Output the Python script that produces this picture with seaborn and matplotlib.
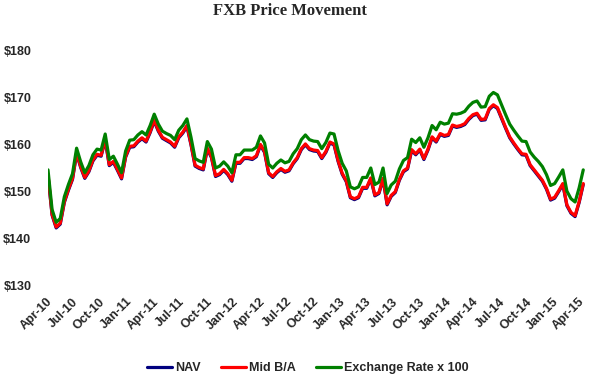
import pandas as pd
import matplotlib
matplotlib.use("Agg")
import matplotlib.pyplot as plt
import matplotlib.dates as mdates
from matplotlib.ticker import FuncFormatter
import seaborn as sns

# bi-weekly readings
start_date = "2010-03-25"
step = "14D"

exchange_x100 = [
    154.6, 146.2, 143.5, 144.3, 148.9, 151.5, 153.8, 159.2, 156.3, 154.0,
    155.5, 157.8, 159.0, 158.8, 162.2, 156.8, 157.5, 155.8, 154.0, 158.6,
    160.9, 161.0, 162.0, 162.7, 162.0, 164.0, 166.4, 164.3, 162.8, 162.3,
    161.9, 161.0, 163.0, 164.0, 165.4, 161.5, 157.0, 156.5, 156.2, 160.6,
    159.0, 155.0, 155.4, 156.3, 155.4, 154.0, 157.8, 157.8, 158.8, 158.8,
    158.8, 159.4, 161.8, 160.3, 155.8, 155.0, 156.0, 156.7, 156.1, 156.4,
    158.0, 159.1, 161.0, 162.0, 161.0, 160.7, 160.6, 159.1, 160.4, 162.4,
    162.2, 158.7, 156.0, 154.4, 151.0, 150.6, 151.0, 153.0, 153.0, 155.0,
    151.5, 152.0, 155.0, 149.6, 151.4, 152.2, 154.8, 156.6, 157.2, 161.1,
    160.4, 161.4, 159.4, 161.4, 164.0, 163.1, 164.7, 164.3, 164.5, 166.5,
    166.4, 166.6, 167.0, 168.1, 168.9, 169.2, 167.9, 168.0, 170.2, 171.0,
    170.5, 168.4, 166.3, 164.3, 163.0, 161.8, 160.7, 160.6, 158.4, 157.3,
    156.4, 155.3, 153.6, 151.3, 151.7, 153.1, 154.6, 150.1, 148.5, 147.8,
    150.8, 154.6,
]

mid_ba = [
    153.6, 145.2, 142.5, 143.3, 147.9, 150.5, 152.8, 158.2, 155.3, 153.0,
    154.4, 156.7, 157.9, 157.7, 161.1, 155.7, 156.4, 154.7, 152.9, 157.5,
    159.6, 159.7, 160.7, 161.4, 160.7, 162.7, 165.1, 163.0, 161.5, 161.0,
    160.5, 159.6, 161.6, 162.6, 164.0, 160.1, 155.6, 155.1, 154.8, 159.2,
    157.4, 153.4, 153.8, 154.7, 153.8, 152.4, 156.2, 156.2, 157.2, 157.2,
    157.0, 157.6, 160.0, 158.5, 154.0, 153.2, 154.2, 154.9, 154.3, 154.6,
    156.1, 157.2, 159.1, 160.1, 159.1, 158.8, 158.7, 157.2, 158.5, 160.5,
    160.1, 156.6, 153.9, 152.3, 148.9, 148.5, 148.9, 150.9, 150.9, 152.9,
    149.3, 149.8, 152.8, 147.4, 149.2, 150.0, 152.6, 154.4, 155.0, 158.9,
    158.0, 159.0, 157.0, 159.0, 161.6, 160.7, 162.3, 161.9, 162.1, 164.1,
    163.8, 164.0, 164.4, 165.5, 166.3, 166.6, 165.3, 165.4, 167.6, 168.4,
    167.8, 165.7, 163.6, 161.6, 160.3, 159.1, 158.0, 157.9, 155.7, 154.6,
    153.5, 152.4, 150.7, 148.4, 148.8, 150.2, 151.7, 147.2, 145.6, 144.9,
    147.9, 151.7,
]

nav = [
    153.4, 145.0, 142.3, 143.1, 147.7, 150.3, 152.6, 158.0, 155.1, 152.8,
    154.2, 156.5, 157.7, 157.5, 160.9, 155.5, 156.2, 154.5, 152.7, 157.3,
    159.4, 159.5, 160.5, 161.2, 160.5, 162.5, 164.9, 162.8, 161.3, 160.8,
    160.3, 159.4, 161.4, 162.4, 163.8, 159.9, 155.4, 154.9, 154.6, 159.0,
    157.2, 153.2, 153.6, 154.5, 153.6, 152.2, 156.0, 156.0, 157.0, 157.0,
    156.8, 157.4, 159.8, 158.3, 153.8, 153.0, 154.0, 154.7, 154.1, 154.4,
    155.9, 157.0, 158.9, 159.9, 158.9, 158.6, 158.5, 157.0, 158.3, 160.3,
    159.9, 156.4, 153.7, 152.1, 148.7, 148.3, 148.7, 150.7, 150.7, 152.7,
    149.1, 149.6, 152.6, 147.2, 149.0, 149.8, 152.4, 154.2, 154.8, 158.7,
    157.8, 158.8, 156.8, 158.8, 161.4, 160.5, 162.1, 161.7, 161.9, 163.9,
    163.6, 163.8, 164.2, 165.3, 166.1, 166.4, 165.1, 165.2, 167.4, 168.2,
    167.6, 165.5, 163.4, 161.4, 160.1, 158.9, 157.8, 157.7, 155.5, 154.4,
    153.3, 152.2, 150.5, 148.2, 148.6, 150.0, 151.5, 147.0, 145.4, 144.7,
    147.7, 151.5,
]

series_names = ["NAV", "Mid B/A", "Exchange Rate x 100"]
series_colors = ["#00007F", "#FF0000", "#008000"]

dates = pd.date_range(start_date, periods=len(nav), freq=step)
df = pd.DataFrame({"date": dates, "NAV": nav, "Mid B/A": mid_ba,
                   "Exchange Rate x 100": exchange_x100})
long_df = df.melt(id_vars="date", var_name="series", value_name="price")

sns.set_style("white")
plt.rcParams["font.family"] = ["Liberation Sans", "DejaVu Sans"]

fig = plt.figure(figsize=(5.9, 3.76), dpi=100)
ax = fig.add_axes([48 / 590, 90 / 376, 537 / 590, 236 / 376])

sns.lineplot(data=long_df, x="date", y="price", hue="series",
             hue_order=series_names, palette=series_colors,
             linewidth=2.3, ax=ax, legend=False)

ax.set_ylim(130, 180)
ax.set_yticks([130, 140, 150, 160, 170, 180])
ax.yaxis.set_major_formatter(FuncFormatter(lambda v, p: f"${v:.0f}"))
ax.set_xlim(pd.Timestamp("2010-03-25"), pd.Timestamp("2015-04-08"))
ax.xaxis.set_major_locator(mdates.MonthLocator(bymonth=[1, 4, 7, 10]))
ax.xaxis.set_major_formatter(mdates.DateFormatter("%b-%y"))
ax.set_xlabel("")
ax.set_ylabel("")
for s in ax.spines.values():
    s.set_visible(False)
ax.tick_params(axis="both", length=0, labelsize=9)
ax.tick_params(axis="y", pad=12)
ax.tick_params(axis="x", pad=10)
for lab in ax.get_yticklabels():
    lab.set_fontweight("bold")
for lab in ax.get_xticklabels():
    lab.set_fontweight("bold")
    lab.set_rotation(45)
    lab.set_ha("right")
    lab.set_va("center")
    lab.set_rotation_mode("anchor")

fig.text(290 / 590, 1 - 11 / 376, "FXB Price Movement", ha="center", va="center",
         fontsize=12, fontweight="bold", family=["Liberation Serif", "DejaVu Serif"])

handles = ax.get_lines()[:3]
fig.legend(handles, series_names, loc="center", bbox_to_anchor=(308 / 590, 1 - 368 / 376),
           ncol=3, frameon=False, prop={"weight": "bold", "size": 9},
           handlelength=2.0, handletextpad=0.25, columnspacing=1.6, borderpad=0.1)

fig.savefig("out.png", dpi=100)
